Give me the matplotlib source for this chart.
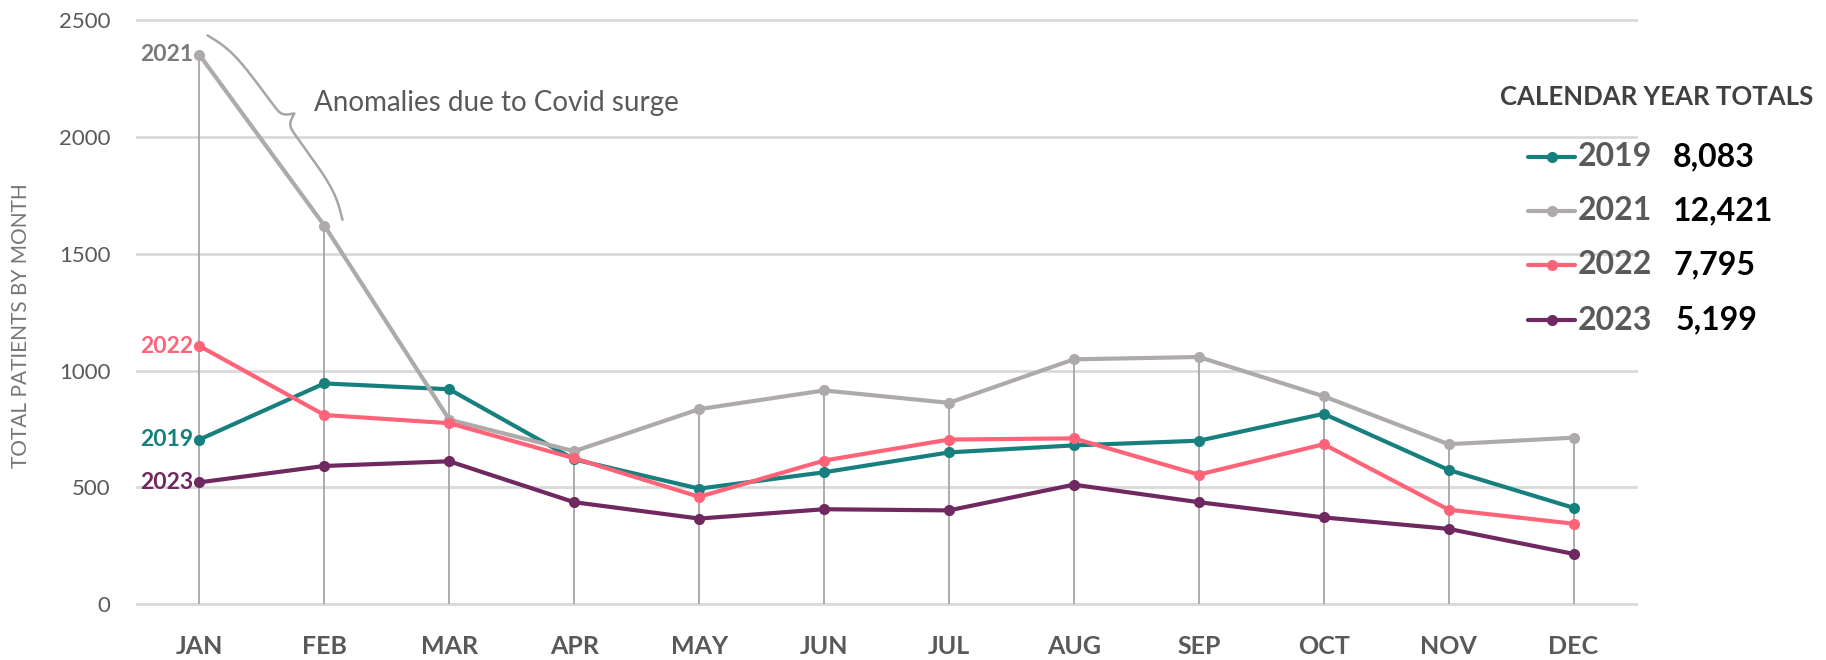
import numpy as np
import matplotlib
matplotlib.use("Agg")
import matplotlib.pyplot as plt
from matplotlib.lines import Line2D

# ---------------- data ----------------
months = ["JAN", "FEB", "MAR", "APR", "MAY", "JUN", "JUL", "AUG", "SEP", "OCT", "NOV", "DEC"]
years = ["2019", "2021", "2022", "2023"]
v2019 = [705, 945, 920, 620, 495, 565, 650, 680, 700, 815, 575, 413]
v2021 = [2350, 1620, 790, 655, 835, 915, 862, 1048, 1058, 890, 685, 713]
v2022 = [1105, 810, 775, 625, 460, 615, 705, 710, 555, 685, 405, 345]
v2023 = [522, 592, 612, 437, 367, 407, 402, 512, 437, 372, 323, 216]
totals = ["8,083", "12,421", "7,795", "5,199"]
yticks = [0, 500, 1000, 1500, 2000, 2500]
ylabel = "TOTAL PATIENTS BY MONTH"
legend_title = "CALENDAR YEAR TOTALS"
note = "Anomalies due to Covid surge"

series = [v2019, v2021, v2022, v2023]
colors = ["#17807F", "#AEAAAA", "#FF6378", "#702860"]
label_colors = ["#17807F", "#7A7A7A", "#FF6378", "#702860"]

plt.rcParams['font.family'] = ['Lato', 'DejaVu Sans']

W, H = 1826, 660
fig = plt.figure(figsize=(W / 100, H / 100), dpi=100)
fig.patch.set_facecolor("white")
ax = fig.add_axes([137 / W, 1 - 604.4 / H, (1636 - 137) / W, (604.4 - 19.8) / H])
x = np.arange(len(months))
ax.set_xlim(-0.5, 11.5)
ax.set_ylim(0, 2500)
for s in ax.spines.values():
    s.set_visible(False)

# gridlines
for yt in yticks:
    ax.axhline(yt, color="#D9D9D9", lw=2, zorder=0, clip_on=False)

# drop lines
maxes = np.max(np.array(series), axis=0)
ax.vlines(x, 0, maxes, color="#A6A6A6", lw=1.3, zorder=1)

# series
for vals, c in zip(series, colors):
    ax.plot(x, vals, color=c, lw=3.0, marker="o", markersize=7, zorder=3,
            solid_joinstyle="round", solid_capstyle="round")

# series labels at JAN
for yr, vals, lc in zip(years, series, label_colors):
    ax.annotate(yr, xy=(0, vals[0]), xytext=(-6, 0), textcoords="offset pixels",
                ha="right", va="center", fontsize=16.5, fontweight="bold", color=lc, zorder=4)

ax.set_xticks(x)
ax.set_xticklabels(months, fontsize=18, fontweight="bold", color="#595959")
ax.set_yticks(yticks)
ax.set_yticklabels([str(v) for v in yticks], fontsize=16, color="#595959")
ax.tick_params(axis="x", length=0, pad=22)
ax.tick_params(axis="y", length=0, pad=19)

fig.text(21 / W, 1 - 326 / H, ylabel, rotation=90, ha="center", va="center",
         fontsize=15, color="#767676")

# brace annotation alongside the 2021 surge
p0, p1 = ax.transData.transform([(0, v2021[0]), (1, v2021[1])])
d = p1 - p0
L0 = np.hypot(*d)
u = d / L0
n = np.array([-u[1], u[0]])
if n[0] < 0:
    n = -n
ext0, ext1 = 11, 6
base, amp = 18, 24
beta_end, beta_tip = 0.07, 0.35
S = p0 - ext0 * u
L = L0 + ext0 + ext1
xh = np.linspace(0, L / 2, 400)
yh = 1 / (1 + np.exp(-beta_end * (xh - xh[0]))) + 1 / (1 + np.exp(-beta_tip * (xh - xh[-1])))
yb = np.concatenate([yh, yh[-2::-1]])
xb = np.concatenate([xh, L - xh[-2::-1]])
off = base + amp * (yb - 0.5)
pts = S[None, :] + xb[:, None] * u[None, :] + off[:, None] * n[None, :]
fpts = fig.transFigure.inverted().transform(pts)
fig.add_artist(Line2D(fpts[:, 0], fpts[:, 1], color="#A6A6A6", lw=1.8,
                      transform=fig.transFigure, solid_capstyle="round"))
tip = S + (L / 2) * u + (base + amp) * n
tpos = fig.transFigure.inverted().transform([tip + np.array([20, 10])])[0]
fig.text(tpos[0], tpos[1], note, ha="left", va="center", fontsize=20, color="#595959")

# custom legend
fig.text(1500 / W, 1 - 97 / H, legend_title, ha="left", va="center",
         fontsize=18.5, fontweight="bold", color="#404040")
entry_y = [157, 211, 265, 320]
tot_dx = [0, 0, 0, 3]
for i, (yr, c, tot) in enumerate(zip(years, colors, totals)):
    yy = 1 - entry_y[i] / H
    fig.add_artist(Line2D([1528 / W, 1551.5 / W, 1575 / W], [yy, yy, yy], color=c, lw=3.0,
                          marker="o", markersize=7, markevery=[1], transform=fig.transFigure,
                          solid_capstyle="round"))
    fig.text(1578 / W, yy, yr, ha="left", va="center", fontsize=23, fontweight="bold", color="#595959")
    fig.text((1673 + tot_dx[i]) / W, yy, tot, ha="left", va="center", fontsize=23,
             fontweight="bold", color="black")

fig.savefig("out.png", dpi=100, facecolor="white")
